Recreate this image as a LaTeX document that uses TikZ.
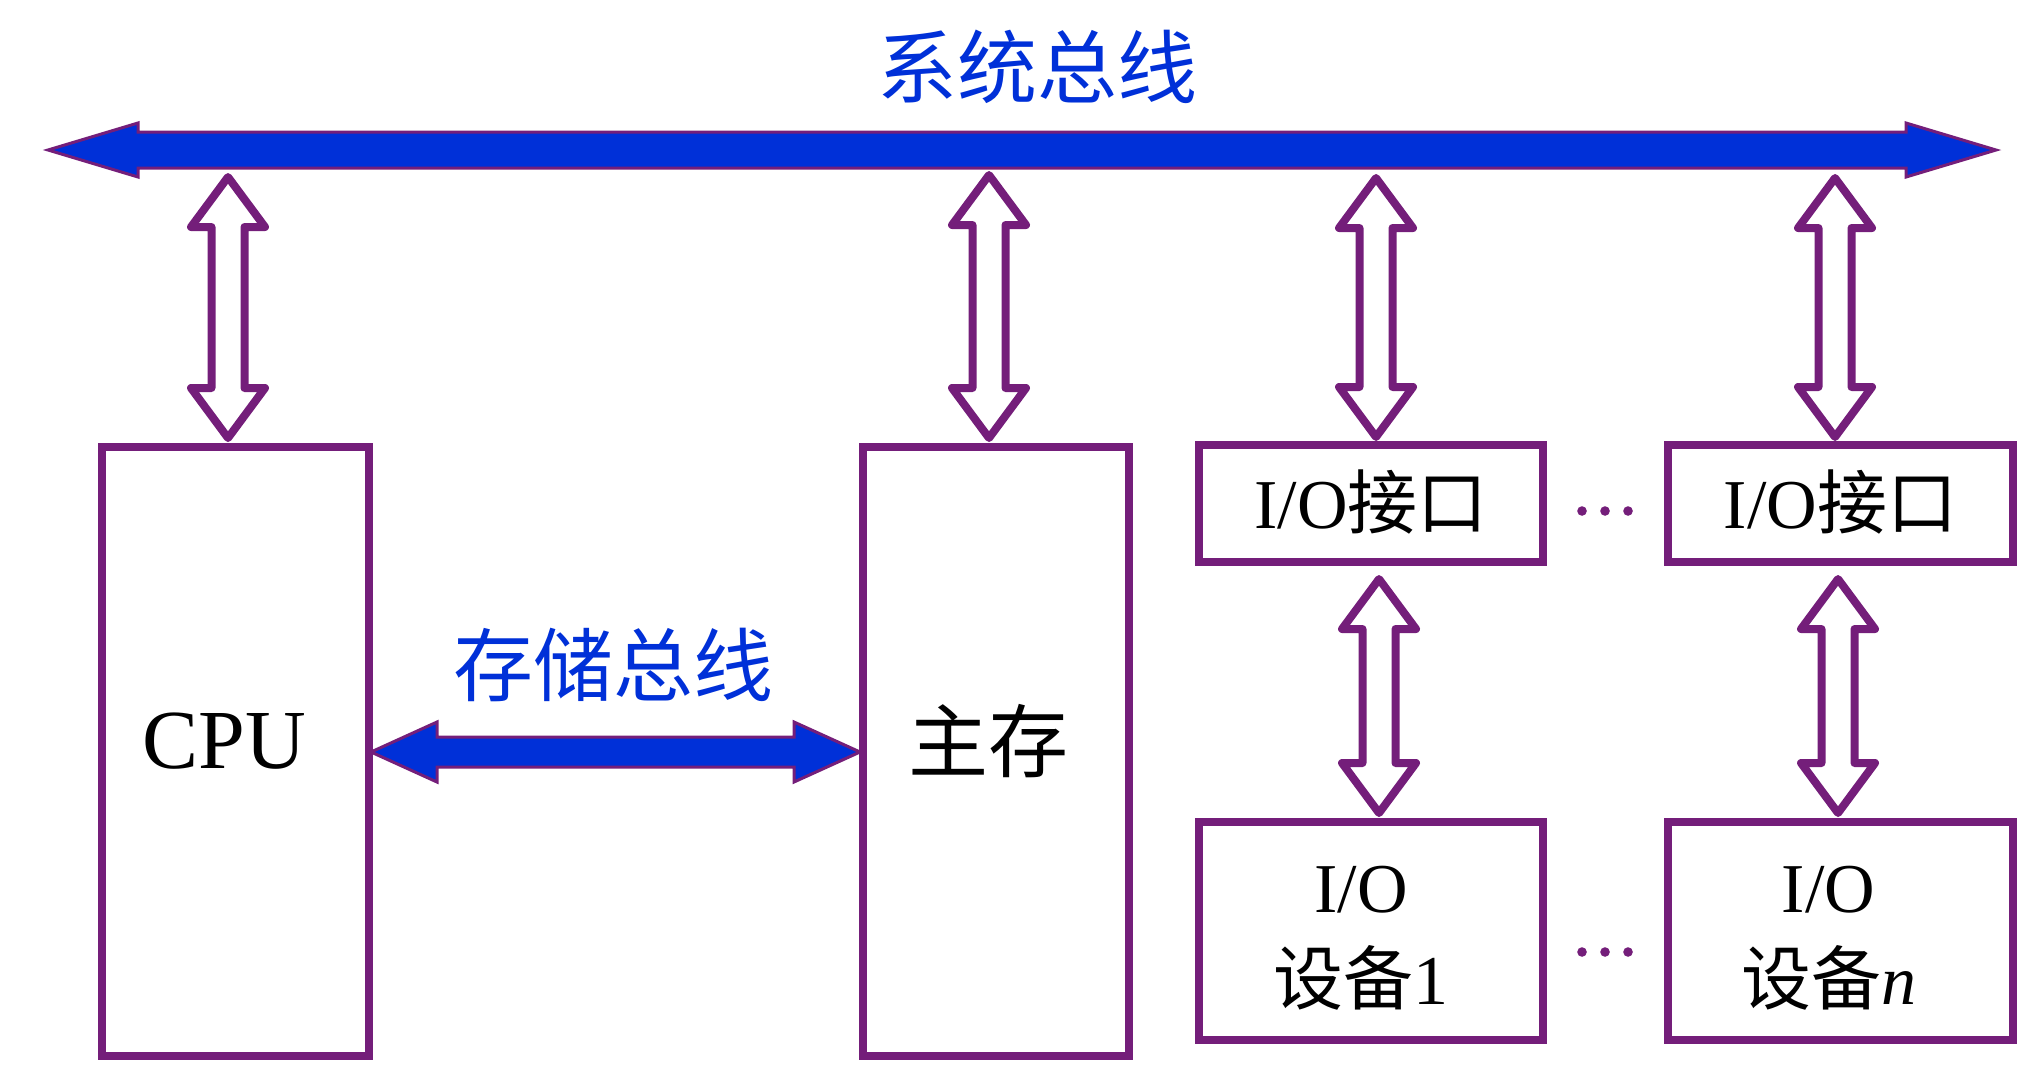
\documentclass[tikz,border=0pt]{standalone}
\usepackage{fontspec}
\setmainfont{Liberation Serif}
\newfontfamily\cjk{Noto Sans CJK SC}
\usetikzlibrary{calc}
\definecolor{busblue}{RGB}{0,48,216}
\definecolor{pur}{RGB}{116,30,122}
\tikzset{
 box/.style={draw=pur, line width=4pt, fill=white, inner sep=0pt, outer sep=0pt},
 txt/.style={align=center, text=black, inner sep=0pt},
 busarrow/.style={fill=busblue, draw=pur, line width=1.5pt, line join=miter},
 hollow/.style={draw=pur, line width=4pt, fill=white, line join=round},
 lbl/.style={text=busblue, font=\cjk\fontsize{40}{48}\selectfont, inner sep=0pt},
 dotc/.style={fill=pur, draw=none}
}
% horizontal double-headed block arrow: from, to, headlen, headhalf, shafthalf
\newcommand\hbus[5]{%
 \path[busarrow] let \p1=(#1), \p2=(#2) in
 (\x1,\y1) -- (\x1+#3,\y1+#4) -- (\x1+#3,\y1+#5) -- (\x2-#3,\y1+#5) -- (\x2-#3,\y1+#4) -- (\x2,\y1)
 -- (\x2-#3,\y1-#4) -- (\x2-#3,\y1-#5) -- (\x1+#3,\y1-#5) -- (\x1+#3,\y1-#4) -- cycle;}
% vertical hollow double arrow: top tip, bottom tip
\newcommand\vdouble[2]{%
 \path[hollow] let \p1=(#1), \p2=(#2) in
 (\x1,\y1) -- (\x1+18.5pt,\y1-25pt) -- (\x1+8.25pt,\y1-25pt) -- (\x1+8.25pt,\y2+25pt) -- (\x1+18.5pt,\y2+25pt)
 -- (\x1,\y2) -- (\x1-18.5pt,\y2+25pt) -- (\x1-8.25pt,\y2+25pt) -- (\x1-8.25pt,\y1-25pt) -- (\x1-18.5pt,\y1-25pt) -- cycle;}
\begin{document}
\begin{tikzpicture}[x=0.5pt,y=-0.5pt]
\useasboundingbox (0,0) rectangle (2032,1066);
% boxes
\node[box, minimum width=133.5pt, minimum height=304.5pt] (cpu) at (235.5,751.5) {};
\node[box, minimum width=133pt, minimum height=304.5pt] (mem) at (996,751.5) {};
\node[box, minimum width=172pt, minimum height=58.5pt] (if1) at (1371,503.5) {};
\node[box, minimum width=172.5pt, minimum height=58.5pt] (ifn) at (1840.5,503.5) {};
\node[box, minimum width=172pt, minimum height=109pt] (dev1) at (1371,931) {};
\node[box, minimum width=172.5pt, minimum height=109pt] (devn) at (1840.5,931) {};
% box texts
\node[txt, font=\fontsize{42}{48}\selectfont] (cpuT) at ($(cpu)+(-11,-10)$) {CPU};
\node[txt, font=\cjk\fontsize{40}{48}\selectfont] (memT) at ($(mem)+(-8,-10)$) {主存};
\node[txt, font=\fontsize{35}{42}\selectfont] (if1T) at ($(if1)+(0,-2)$) {I/O{\cjk 接口}};
\node[txt, font=\fontsize{35}{42}\selectfont] (ifnT) at ($(ifn)+(0,-2)$) {I/O{\cjk 接口}};
\node[txt, font=\fontsize{35}{46}\selectfont] (dev1T) at ($(dev1)+(-10,7)$) {I/O\\{\cjk 设备}1};
\node[txt, font=\fontsize{35}{46}\selectfont] (devnT) at ($(devn)+(-12,7)$) {I/O\\{\cjk 设备}\textit{n}};
% system bus
\coordinate (sbL) at (48,150);
\coordinate (sbR) at (1996,150);
\hbus{sbL}{sbR}{45pt}{13.5pt}{9pt}
\node[lbl] (sbl) at (1037,67) {系统总线};
% memory bus
\coordinate (mbL) at ($(cpu.east)+(2,0.5)$);
\coordinate (mbR) at ($(mem.west)+(-3,0.5)$);
\hbus{mbL}{mbR}{33pt}{15pt}{7.5pt}
\node[lbl] (mbl) at (613,665) {存储总线};
% hollow double arrows
\coordinate (a1t) at (228,177);  \coordinate (a1b) at (228,438);
\coordinate (a2t) at (989,175);  \coordinate (a2b) at (989,438);
\coordinate (a3t) at (1376,178); \coordinate (a3b) at (1376,437);
\coordinate (a4t) at (1835,178); \coordinate (a4b) at (1835,437);
\coordinate (a5t) at (1379,579); \coordinate (a5b) at (1379,813);
\coordinate (a6t) at (1838,579); \coordinate (a6b) at (1838,813);
\vdouble{a1t}{a1b}
\vdouble{a2t}{a2b}
\vdouble{a3t}{a3b}
\vdouble{a4t}{a4b}
\vdouble{a5t}{a5b}
\vdouble{a6t}{a6b}
% dots
\foreach \x in {1582,1605,1628}{
  \fill[dotc] (\x,511) circle (2.4pt);
  \fill[dotc] (\x,952) circle (2.4pt);
}
\end{tikzpicture}
\end{document}
